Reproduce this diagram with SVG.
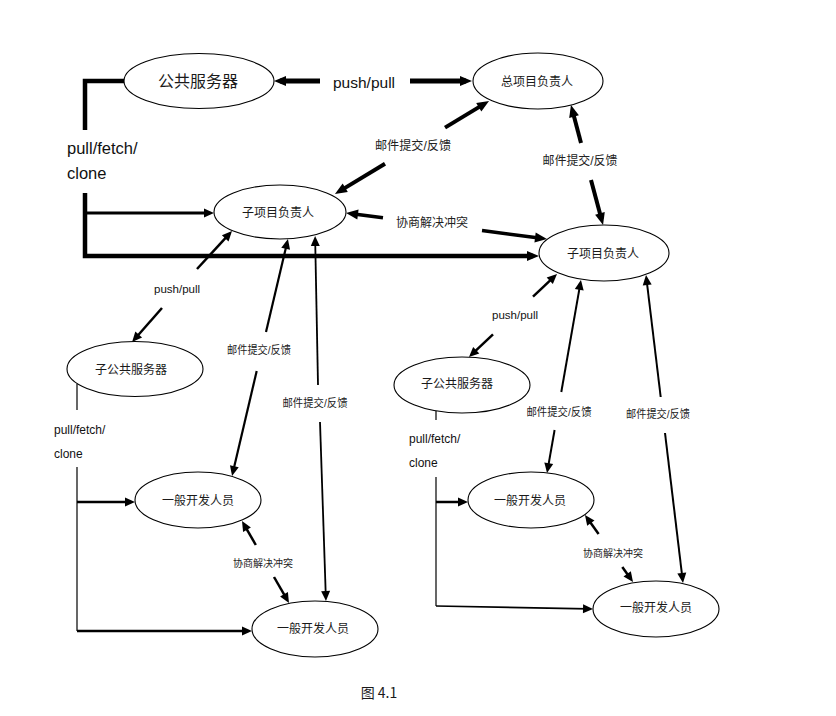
<svg xmlns="http://www.w3.org/2000/svg" width="836" height="716" viewBox="0 0 836 716">
<style>
.node ellipse{fill:#fff;stroke:#000;stroke-width:1.1}
.nt{font-family:"Noto Sans CJK SC",sans-serif;fill:#1a1a1a;text-anchor:middle;dominant-baseline:central}
.lt{font-family:"Liberation Sans","Noto Sans CJK SC",sans-serif;fill:#222;text-anchor:middle;dominant-baseline:central}
.en{font-family:"Liberation Sans",Arial,sans-serif;fill:#111}
.c line,.c path{stroke:#000;fill:none}
.big{marker-end:url(#A)}
.sm{marker-end:url(#a)}
</style>
<defs>
<marker id="A" markerWidth="13" markerHeight="11" refX="6" refY="5" orient="auto" markerUnits="userSpaceOnUse" overflow="visible"><path d="M0,0 L12,5 L0,10 z" fill="#000"/></marker>
<marker id="a" markerWidth="11" markerHeight="10" refX="5" refY="4.5" orient="auto" markerUnits="userSpaceOnUse" overflow="visible"><path d="M0,0 L10,4.5 L0,9 z" fill="#000"/></marker>
</defs>
<rect width="836" height="716" fill="#fff"/>
<g id="connectors" class="c">
<!-- top push/pull -->
<line x1="320" y1="81" x2="280" y2="81" stroke-width="5" class="big"/>
<line x1="410" y1="81" x2="466" y2="81" stroke-width="5" class="big"/>
<!-- top bracket pull/fetch/clone -->
<path d="M124,81 L85,81 L85,130" stroke-width="4.5" stroke-linejoin="miter"/>
<path d="M85,193 L85,256 L533,256" stroke-width="4.5" stroke-linejoin="miter" class="big"/>
<line x1="85" y1="213" x2="209" y2="213" stroke-width="3" class="sm"/>
<!-- mail upper left -->
<line x1="445" y1="127.6" x2="483.9" y2="104.1" stroke-width="4" class="big"/>
<line x1="385" y1="163.8" x2="340.1" y2="190.9" stroke-width="4" class="big"/>
<!-- mail upper right -->
<line x1="581" y1="143" x2="572.5" y2="110.8" stroke-width="4" class="big"/>
<line x1="591" y1="180" x2="601.5" y2="219.2" stroke-width="4" class="big"/>
<!-- negotiate upper -->
<line x1="383" y1="217.8" x2="352" y2="213.8" stroke-width="3.5" class="big"/>
<line x1="482" y1="230.6" x2="541" y2="238.2" stroke-width="3.5" class="big"/>
<!-- left lower push/pull -->
<line x1="197" y1="269" x2="228.6" y2="234.7" stroke-width="2.5" class="sm"/>
<line x1="162" y1="308" x2="135.4" y2="338.3" stroke-width="2.5" class="sm"/>
<!-- mail left1 -->
<line x1="266" y1="332" x2="286.8" y2="243.9" stroke-width="2.2" class="sm"/>
<line x1="256.7" y1="371" x2="233.2" y2="471.1" stroke-width="2.2" class="sm"/>
<!-- mail left2 -->
<line x1="318" y1="385" x2="315.2" y2="241" stroke-width="1.8" class="sm"/>
<line x1="320" y1="422" x2="325.8" y2="596" stroke-width="1.8" class="sm"/>
<!-- negotiate lower left -->
<line x1="255.8" y1="545" x2="244.5" y2="525.3" stroke-width="2.5" class="sm"/>
<line x1="274" y1="577" x2="286.5" y2="598.7" stroke-width="2.5" class="sm"/>
<!-- left sub server pull/fetch/clone -->
<line x1="77" y1="384" x2="77" y2="410" stroke-width="1.2" stroke="#444"/>
<line x1="77" y1="467" x2="77" y2="631" stroke-width="1.2" stroke="#444"/>
<line x1="77" y1="502" x2="130" y2="502" stroke-width="2.5" class="sm"/>
<line x1="77" y1="631" x2="247" y2="631" stroke-width="2.5" class="sm"/>
<!-- right lower push/pull -->
<line x1="533" y1="296.6" x2="553.4" y2="277.4" stroke-width="2.5" class="sm"/>
<line x1="493" y1="334.4" x2="472.6" y2="353.6" stroke-width="2.5" class="sm"/>
<!-- mail right1 -->
<line x1="561.3" y1="392" x2="580.1" y2="284.9" stroke-width="2" class="sm"/>
<line x1="554.6" y1="430" x2="547.9" y2="468.1" stroke-width="2" class="sm"/>
<!-- mail right2 -->
<line x1="660.7" y1="397" x2="646.6" y2="280" stroke-width="2" class="sm"/>
<line x1="665" y1="433" x2="682.4" y2="578" stroke-width="2" class="sm"/>
<!-- negotiate lower right -->
<line x1="598.6" y1="534" x2="587.9" y2="519.1" stroke-width="2.5" class="sm"/>
<line x1="622.3" y1="567" x2="630.1" y2="577.9" stroke-width="2.5" class="sm"/>
<!-- right sub server pull/fetch/clone -->
<line x1="436" y1="411" x2="436" y2="420" stroke-width="1.2" stroke="#444"/>
<line x1="436" y1="477" x2="436" y2="606" stroke-width="1.2" stroke="#444"/>
<line x1="436" y1="502" x2="463" y2="502" stroke-width="2.5" class="sm"/>
<line x1="436" y1="606" x2="588" y2="608.9" stroke-width="1.6" class="sm"/>
</g>
<g id="connector-labels">
<text class="en" x="333" y="88" font-size="15.5">push/pull</text>
<text class="en" x="67" y="154" font-size="16.5">pull/fetch/</text>
<text class="en" x="67" y="179" font-size="16.5">clone</text>
<text class="lt" x="413" y="146" font-size="12.5" textLength="76" lengthAdjust="spacingAndGlyphs">邮件提交/反馈</text>
<text class="lt" x="580" y="161" font-size="12.5" textLength="75" lengthAdjust="spacingAndGlyphs">邮件提交/反馈</text>
<text class="lt" x="432" y="223" font-size="12">协商解决冲突</text>
<text class="en" x="154" y="293" font-size="11.5">push/pull</text>
<text class="lt" x="259" y="350" font-size="11.5" textLength="64" lengthAdjust="spacingAndGlyphs">邮件提交/反馈</text>
<text class="lt" x="315" y="403" font-size="11.5" textLength="65" lengthAdjust="spacingAndGlyphs">邮件提交/反馈</text>
<text class="lt" x="263" y="563" font-size="10">协商解决冲突</text>
<text class="en" x="54" y="434" font-size="12">pull/fetch/</text>
<text class="en" x="54" y="458" font-size="12">clone</text>
<text class="en" x="492" y="319" font-size="11.5">push/pull</text>
<text class="lt" x="559" y="412" font-size="11.5" textLength="65" lengthAdjust="spacingAndGlyphs">邮件提交/反馈</text>
<text class="lt" x="658" y="414" font-size="11.5" textLength="64" lengthAdjust="spacingAndGlyphs">邮件提交/反馈</text>
<text class="lt" x="613" y="553" font-size="10">协商解决冲突</text>
<text class="en" x="409" y="443" font-size="12">pull/fetch/</text>
<text class="en" x="409" y="467" font-size="12">clone</text>
</g>
<g id="public-server" class="node"><ellipse cx="199" cy="81" rx="75" ry="27.5"/><text class="nt" x="198" y="80" font-size="16">公共服务器</text></g>
<g id="chief-lead" class="node"><ellipse cx="538" cy="81" rx="65" ry="28"/><text class="nt" x="537" y="80" font-size="12">总项目负责人</text></g>
<g id="sub-lead-left" class="node"><ellipse cx="280" cy="212" rx="66" ry="27"/><text class="nt" x="278" y="211" font-size="12">子项目负责人</text></g>
<g id="sub-lead-right" class="node"><ellipse cx="604" cy="253" rx="65" ry="28"/><text class="nt" x="603" y="252" font-size="12">子项目负责人</text></g>
<g id="sub-server-left" class="node"><ellipse cx="135" cy="369" rx="68" ry="27.5"/><text class="nt" x="131" y="368" font-size="12">子公共服务器</text></g>
<g id="sub-server-right" class="node"><ellipse cx="462" cy="385" rx="68" ry="28"/><text class="nt" x="457" y="382" font-size="12">子公共服务器</text></g>
<g id="dev-left-1" class="node"><ellipse cx="198" cy="500" rx="63" ry="28"/><text class="nt" x="198" y="499" font-size="12">一般开发人员</text></g>
<g id="dev-left-2" class="node"><ellipse cx="315" cy="629" rx="63" ry="28"/><text class="nt" x="313" y="627" font-size="12">一般开发人员</text></g>
<g id="dev-right-1" class="node"><ellipse cx="531" cy="500" rx="63" ry="28"/><text class="nt" x="530" y="499" font-size="12">一般开发人员</text></g>
<g id="dev-right-2" class="node"><ellipse cx="656" cy="609" rx="63" ry="28"/><text class="nt" x="656" y="606" font-size="12">一般开发人员</text></g>
<g id="caption"><text class="nt" x="379" y="692" font-size="14" font-family="'Liberation Sans','Noto Sans CJK SC',sans-serif">图 4.1</text></g>
</svg>
